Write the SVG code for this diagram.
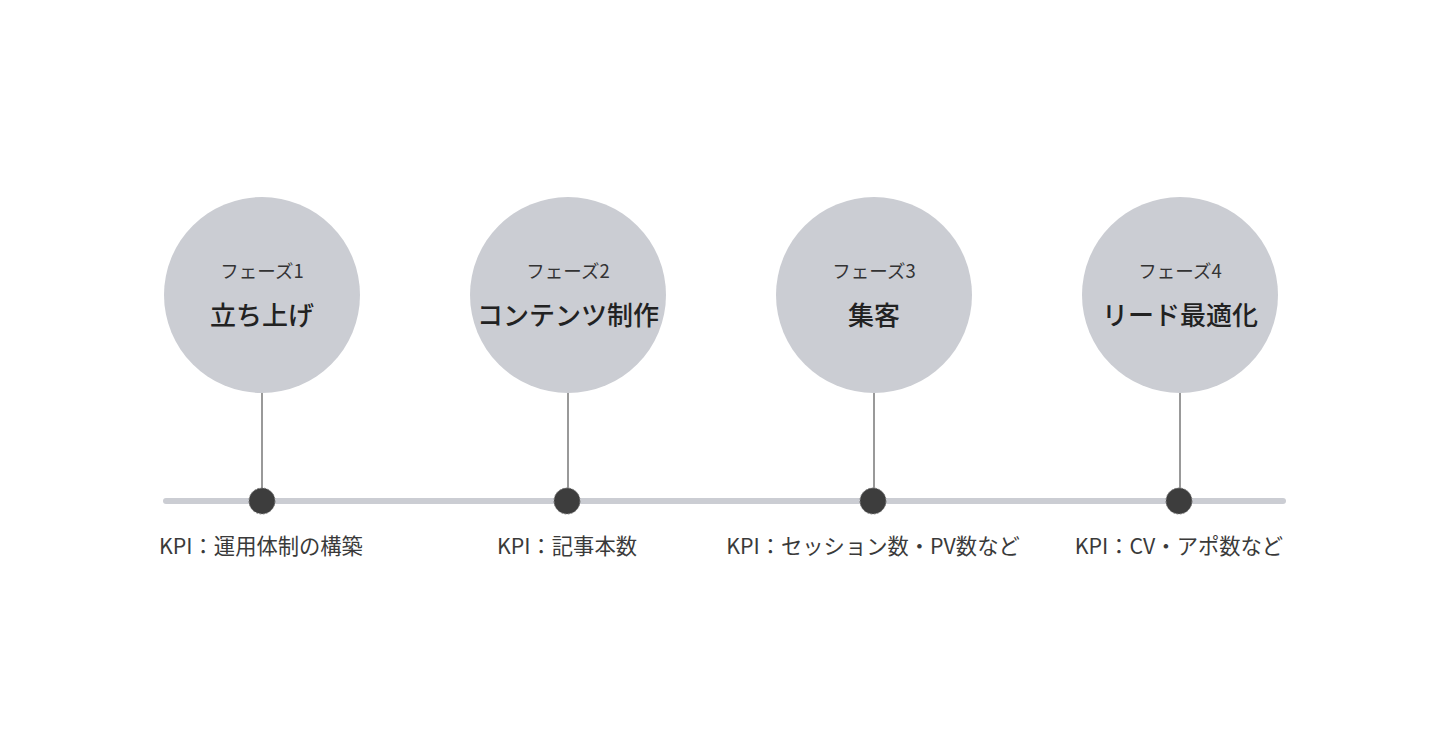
<svg xmlns="http://www.w3.org/2000/svg" width="1440" height="754" viewBox="0 0 1440 754">
<style>
text{font-family:"Noto Sans CJK JP","Noto Sans",sans-serif;fill:#333;text-anchor:middle}
.ph{font-size:18.5px;fill:#333}
.tt{font-size:26px;font-weight:500;fill:#222}
.kpi{font-size:21.3px;fill:#3a3a3a}
.circ{fill:#cbcdd3}
.stem{stroke:#555;stroke-width:1.2}
.dot{fill:#3d3d3d;stroke:#777;stroke-width:1;stroke-dasharray:2 1.5}
</style>
<rect width="1440" height="754" fill="#fff"/>
<g id="connectors">
<line x1="166" y1="501" x2="1283" y2="501" stroke="#cbcdd3" stroke-width="6" stroke-linecap="round"/>
<line class="stem" x1="262" y1="392" x2="262" y2="488"/>
<line class="stem" x1="568" y1="392" x2="568" y2="488"/>
<line class="stem" x1="874" y1="392" x2="874" y2="488"/>
<line class="stem" x1="1180" y1="392" x2="1180" y2="488"/>
</g>
<g id="phase1">
<circle class="circ" cx="262" cy="295" r="98"/>
<text class="ph" x="262" y="278">フェーズ1</text>
<text class="tt" x="262" y="325">立ち上げ</text>
<circle class="dot" cx="262" cy="501" r="13"/>
<text class="kpi" x="261" y="554">KPI：運用体制の構築</text>
</g>
<g id="phase2">
<circle class="circ" cx="568" cy="295" r="98"/>
<text class="ph" x="568" y="278">フェーズ2</text>
<text class="tt" x="568" y="325">コンテンツ制作</text>
<circle class="dot" cx="567" cy="501" r="13"/>
<text class="kpi" x="567" y="554">KPI：記事本数</text>
</g>
<g id="phase3">
<circle class="circ" cx="874" cy="295" r="98"/>
<text class="ph" x="874" y="278">フェーズ3</text>
<text class="tt" x="874" y="325">集客</text>
<circle class="dot" cx="873" cy="501" r="13"/>
<text class="kpi" x="873" y="554">KPI：セッション数・PV数など</text>
</g>
<g id="phase4">
<circle class="circ" cx="1180" cy="295" r="98"/>
<text class="ph" x="1180" y="278">フェーズ4</text>
<text class="tt" x="1180" y="325">リード最適化</text>
<circle class="dot" cx="1179" cy="501" r="13"/>
<text class="kpi" x="1179" y="554">KPI：CV・アポ数など</text>
</g>
</svg>
